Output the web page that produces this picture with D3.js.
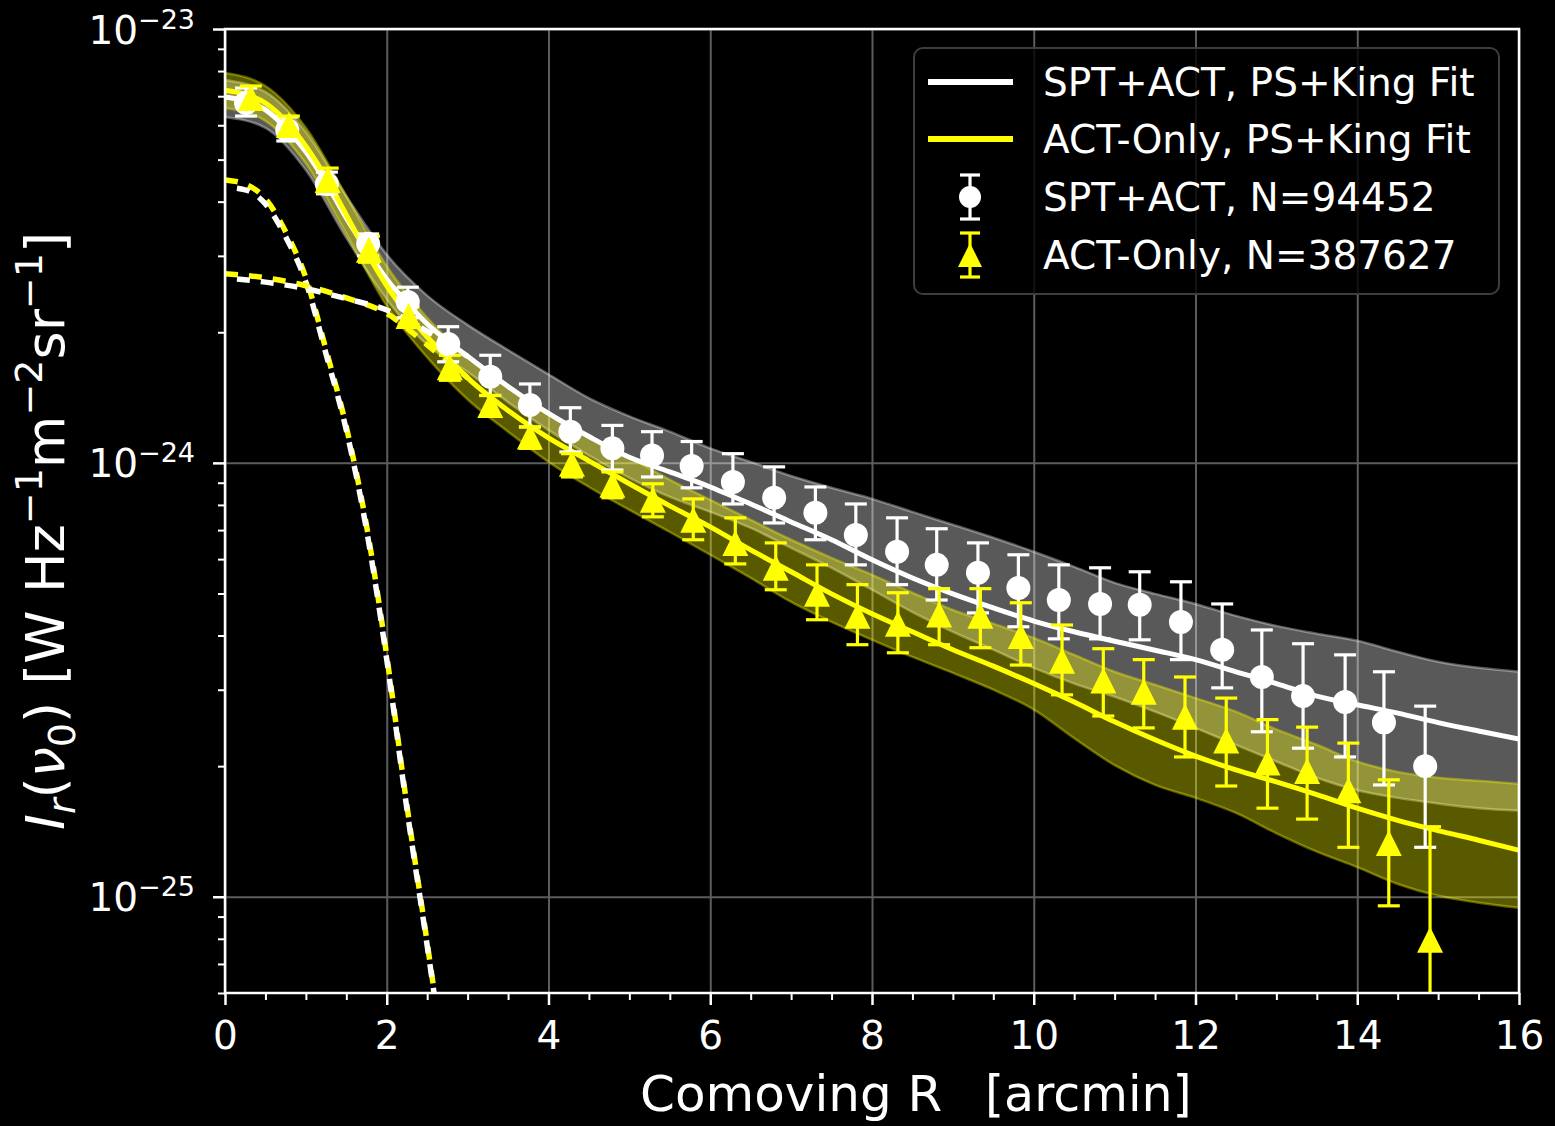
<!DOCTYPE html>
<html>
<head>
<meta charset="utf-8">
<script src="https://cdn.jsdelivr.net/npm/d3@7"></script>
<style>
  html, body { margin: 0; padding: 0; background: #000; }
  svg { display: block; font-family: "DejaVu Sans", sans-serif; }
</style>
</head>
<body>
<svg id="chart" width="1555" height="1126"></svg>
<script>
// All intensities below are in units of 1e-24 W Hz^-1 m^-2 sr^-1
const UNIT = 1e-24;

// Ticks
const xMajor = [0, 2, 4, 6, 8, 10, 12, 14, 16];
const xMinor = [0.5, 1, 1.5, 2.5, 3, 3.5, 4.5, 5, 5.5, 6.5, 7, 7.5, 8.5, 9, 9.5, 10.5, 11, 11.5, 12.5, 13, 13.5, 14.5, 15, 15.5];
const yMajor = [0.1, 1, 10];
const yMinor = [0.06, 0.07, 0.08, 0.09, 0.2, 0.3, 0.4, 0.5, 0.6, 0.7, 0.8, 0.9, 2, 3, 4, 5, 6, 7, 8, 9];

// Stacked profiles: SPT+ACT (white circles)
const sptR = [0.26, 0.77, 1.26, 1.77, 2.26, 2.76, 3.28, 3.77, 4.27, 4.79, 5.28, 5.77, 6.28, 6.79, 7.30, 7.80, 8.31, 8.80, 9.31, 9.81, 10.31, 10.82, 11.31, 11.82, 12.33, 12.82, 13.33, 13.85, 14.33, 14.84];
const sptVal = [6.75, 5.85, 4.39, 3.20, 2.35, 1.88, 1.58, 1.36, 1.18, 1.08, 1.04, 0.984, 0.904, 0.831, 0.767, 0.682, 0.624, 0.582, 0.558, 0.515, 0.483, 0.473, 0.471, 0.430, 0.371, 0.321, 0.290, 0.281, 0.252, 0.200];
const sptHi = [7.31, 6.27, 4.68, 3.37, 2.54, 2.06, 1.77, 1.52, 1.34, 1.22, 1.18, 1.12, 1.05, 0.979, 0.880, 0.804, 0.747, 0.705, 0.654, 0.614, 0.582, 0.573, 0.561, 0.532, 0.473, 0.412, 0.383, 0.361, 0.330, 0.275];
const sptLo = [6.30, 5.52, 4.17, 3.00, 2.16, 1.71, 1.43, 1.21, 1.06, 0.963, 0.928, 0.876, 0.804, 0.727, 0.665, 0.582, 0.524, 0.483, 0.451, 0.419, 0.393, 0.393, 0.391, 0.352, 0.303, 0.240, 0.220, 0.210, 0.181, 0.130];

// Stacked profiles: ACT-only (yellow triangles)
const actR = [0.32, 0.79, 1.27, 1.78, 2.27, 2.78, 3.28, 3.77, 4.29, 4.79, 5.29, 5.79, 6.31, 6.81, 7.32, 7.82, 8.32, 8.83, 9.34, 9.84, 10.35, 10.86, 11.36, 11.87, 12.38, 12.89, 13.38, 13.89, 14.39, 14.90];
const actVal = [6.93, 6.01, 4.49, 3.10, 2.18, 1.66, 1.36, 1.15, 0.995, 0.890, 0.822, 0.739, 0.654, 0.573, 0.499, 0.444, 0.426, 0.447, 0.444, 0.399, 0.350, 0.315, 0.297, 0.260, 0.229, 0.204, 0.195, 0.176, 0.133, 0.0796];
const actHi = [7.39, 6.30, 4.78, 3.33, 2.29, 1.77, 1.43, 1.21, 1.05, 0.953, 0.895, 0.826, 0.747, 0.654, 0.582, 0.524, 0.502, 0.513, 0.513, 0.476, 0.423, 0.373, 0.352, 0.321, 0.287, 0.256, 0.246, 0.226, 0.186, 0.145];
const actLo = [6.58, 5.70, 4.21, 2.90, 2.08, 1.55, 1.28, 1.08, 0.928, 0.831, 0.751, 0.665, 0.585, 0.510, 0.435, 0.381, 0.365, 0.381, 0.375, 0.342, 0.292, 0.261, 0.245, 0.210, 0.180, 0.160, 0.151, 0.130, 0.0953, 0.015];

// PS+King fits
const fitR = [0, 0.25, 0.5, 0.75, 1, 1.25, 1.5, 1.75, 2, 2.25, 2.5, 2.75, 3, 3.5, 4, 4.5, 5, 5.5, 6, 6.5, 7, 7.5, 8, 8.5, 9, 9.5, 10, 10.5, 11, 11.5, 12, 12.5, 13, 13.5, 14, 14.5, 15, 15.5, 16];
const sptFit = [6.97, 6.82, 6.51, 5.92, 5.21, 4.42, 3.67, 3.10, 2.65, 2.34, 2.09, 1.91, 1.76, 1.50, 1.30, 1.15, 1.03, 0.953, 0.880, 0.804, 0.731, 0.665, 0.598, 0.543, 0.499, 0.463, 0.432, 0.408, 0.388, 0.370, 0.352, 0.330, 0.310, 0.290, 0.277, 0.265, 0.252, 0.241, 0.231];
const actFit = [7.23, 7.08, 6.75, 6.14, 5.37, 4.54, 3.73, 3.06, 2.56, 2.21, 1.95, 1.75, 1.57, 1.32, 1.142, 1.011, 0.895, 0.796, 0.712, 0.630, 0.561, 0.499, 0.449, 0.408, 0.371, 0.340, 0.310, 0.281, 0.253, 0.230, 0.211, 0.196, 0.184, 0.172, 0.160, 0.150, 0.142, 0.135, 0.128];

// Fit uncertainty bands
const bandR = [0, 0.5, 1, 1.5, 2, 2.5, 3, 3.5, 4, 4.5, 5, 5.5, 6, 6.5, 7, 7.5, 8, 8.5, 9, 9.5, 10, 10.5, 11, 11.5, 12, 12.5, 13, 13.5, 14, 14.5, 15, 15.5, 16];
const sptBandHi = [7.63, 7.16, 5.79, 4.12, 3.02, 2.43, 2.08, 1.82, 1.60, 1.41, 1.28, 1.18, 1.08, 1.005, 0.933, 0.876, 0.826, 0.771, 0.720, 0.672, 0.624, 0.576, 0.529, 0.499, 0.473, 0.444, 0.421, 0.404, 0.389, 0.367, 0.348, 0.337, 0.330];
const sptBandLo = [6.27, 5.92, 4.73, 3.30, 2.38, 1.87, 1.62, 1.38, 1.19, 1.04, 0.924, 0.835, 0.771, 0.708, 0.637, 0.573, 0.510, 0.453, 0.408, 0.371, 0.337, 0.310, 0.289, 0.267, 0.245, 0.224, 0.205, 0.188, 0.176, 0.169, 0.164, 0.160, 0.158];
const actBandHi = [7.92, 7.39, 5.92, 4.12, 2.84, 2.16, 1.76, 1.49, 1.29, 1.15, 1.03, 0.914, 0.822, 0.739, 0.665, 0.604, 0.552, 0.502, 0.458, 0.426, 0.395, 0.361, 0.330, 0.308, 0.287, 0.267, 0.243, 0.224, 0.205, 0.194, 0.188, 0.185, 0.182];
const actBandLo = [6.58, 6.14, 4.89, 3.37, 2.30, 1.75, 1.40, 1.18, 1.005, 0.880, 0.779, 0.693, 0.614, 0.543, 0.478, 0.430, 0.391, 0.357, 0.328, 0.300, 0.270, 0.232, 0.201, 0.181, 0.169, 0.156, 0.140, 0.127, 0.117, 0.107, 0.1005, 0.0969, 0.0943];

// Fit components (dashed): point source and King profile
const psR = [0, 0.25, 0.5, 0.75, 1, 1.25, 1.5, 1.75, 2, 2.25, 2.5, 2.65];
const sptPS = [4.32, 4.26, 3.95, 3.32, 2.61, 1.78, 1.19, 0.701, 0.352, 0.159, 0.0771, 0.0494];
const actPS = [4.49, 4.39, 4.06, 3.41, 2.67, 1.82, 1.21, 0.716, 0.359, 0.162, 0.0783, 0.0499];
const kingR = [0, 0.5, 1, 1.5, 2, 2.5, 3];
const sptKing = [2.67, 2.61, 2.52, 2.39, 2.25, 2.01, 1.76];
const actKing = [2.73, 2.67, 2.56, 2.40, 2.21, 1.87, 1.57];

const WHITE = '#ffffff';
const YELLOW = '#ffff00';

// Dimensions for the chart and margins
const layout = { width: 1294, height: 964, marginLeft: 225, marginTop: 29 };

const svg = d3.select('#chart');
const stage = svg.append('g')
  .attr('transform', `translate(${layout.marginLeft},${layout.marginTop})`);

const scale = {
  x: d3.scaleLinear().domain([0, 16]).range([0, layout.width]),
  y: d3.scaleLog().domain([0.06, 10]).range([layout.height, 0]),
};

svg.append('defs').append('clipPath').attr('id', 'plot-clip')
  .append('rect').attr('width', layout.width).attr('height', layout.height);

// Grid
const grid = stage.append('g');
grid.append('g').call(d3.axisBottom(scale.x).tickValues(xMajor).tickSize(layout.height).tickSizeOuter(0).tickFormat(''));
grid.append('g').call(d3.axisLeft(scale.y).tickValues(yMajor).tickSize(-layout.width).tickSizeOuter(0).tickFormat(''));
grid.selectAll('.domain').remove();
grid.selectAll('line').attr('stroke', '#5c5c5c').attr('stroke-width', 2);

const plot = stage.append('g').attr('clip-path', 'url(#plot-clip)');

const zip = (xs, ys) => xs.map((r, i) => [r, ys[i]]);
const line = d3.line()
  .x(d => scale.x(d[0]))
  .y(d => scale.y(d[1]))
  .curve(d3.curveMonotoneX);
const area = d3.area()
  .x(d => scale.x(d.r))
  .y0(d => scale.y(d.lo))
  .y1(d => scale.y(d.hi))
  .curve(d3.curveMonotoneX);

// Uncertainty bands
function drawBand(hi, lo, color) {
  const rows = bandR.map((r, i) => ({ r: r, hi: hi[i], lo: lo[i] }));
  plot.append('path').datum(rows)
    .attr('d', area)
    .attr('fill', color).attr('fill-opacity', 0.35)
    .attr('stroke', color).attr('stroke-opacity', 0.35).attr('stroke-width', 2.5);
}
drawBand(sptBandHi, sptBandLo, WHITE);
drawBand(actBandHi, actBandLo, YELLOW);

// Best fit lines
function drawLine(rs, vs, color, width, dash, offset) {
  plot.append('path').datum(zip(rs, vs))
    .attr('d', line)
    .attr('fill', 'none')
    .attr('stroke', color)
    .attr('stroke-width', width)
    .attr('stroke-dasharray', dash || null)
    .attr('stroke-dashoffset', offset || 0);
}
drawLine(fitR, sptFit, WHITE, 5);
drawLine(fitR, actFit, YELLOW, 5);

// Components: yellow and white dashes alternate along the curves
drawLine(psR, actPS, YELLOW, 5.5, '13,11', 0);
drawLine(psR, sptPS, WHITE, 5.5, '13,11', 12);
drawLine(kingR, actKing, YELLOW, 5.5, '13,11', 0);
drawLine(kingR, sptKing, WHITE, 5.5, '13,11', 12);

// Error bars
function drawErrorBars(rs, hi, lo, color) {
  const rows = rs.map((r, i) => ({ r: r, hi: hi[i], lo: lo[i] }));
  const eb = plot.append('g').attr('stroke', color).attr('stroke-width', 3.2);
  eb.selectAll('line.bar').data(rows).join('line').attr('class', 'bar')
    .attr('x1', d => scale.x(d.r)).attr('x2', d => scale.x(d.r))
    .attr('y1', d => scale.y(d.hi)).attr('y2', d => scale.y(d.lo));
  eb.selectAll('line.cap-hi').data(rows).join('line').attr('class', 'cap-hi')
    .attr('x1', d => scale.x(d.r) - 11).attr('x2', d => scale.x(d.r) + 11)
    .attr('y1', d => scale.y(d.hi)).attr('y2', d => scale.y(d.hi));
  eb.selectAll('line.cap-lo').data(rows).join('line').attr('class', 'cap-lo')
    .attr('x1', d => scale.x(d.r) - 11).attr('x2', d => scale.x(d.r) + 11)
    .attr('y1', d => scale.y(d.lo)).attr('y2', d => scale.y(d.lo));
}
drawErrorBars(sptR, sptHi, sptLo, WHITE);
drawErrorBars(actR, actHi, actLo, YELLOW);

const triangle = 'M0,-13L13,13L-13,13Z';

plot.append('g').selectAll('circle').data(zip(sptR, sptVal)).join('circle')
  .attr('cx', d => scale.x(d[0])).attr('cy', d => scale.y(d[1]))
  .attr('r', 12).attr('fill', WHITE);

plot.append('g').selectAll('path').data(zip(actR, actVal)).join('path')
  .attr('transform', d => `translate(${scale.x(d[0])},${scale.y(d[1])})`)
  .attr('d', triangle).attr('fill', YELLOW);

// Axes
function styleAxis(sel, width) {
  sel.attr('font-size', 39).attr('font-family', '"DejaVu Sans", sans-serif').attr('color', WHITE);
  sel.select('.domain').remove();
  sel.selectAll('line').attr('stroke-width', width);
}

const xAxis = stage.append('g').attr('transform', `translate(0,${layout.height})`)
  .call(d3.axisBottom(scale.x).tickValues(xMajor).tickSize(12).tickPadding(16).tickSizeOuter(0).tickFormat(d3.format('d')));
styleAxis(xAxis, 2.5);
const xAxisMinor = stage.append('g').attr('transform', `translate(0,${layout.height})`)
  .call(d3.axisBottom(scale.x).tickValues(xMinor).tickSize(7).tickSizeOuter(0).tickFormat(''));
styleAxis(xAxisMinor, 2);

const yAxis = stage.append('g')
  .call(d3.axisLeft(scale.y).tickValues(yMajor).tickSize(12).tickPadding(18).tickSizeOuter(0));
styleAxis(yAxis, 2.5);
yAxis.selectAll('.tick text')
  .attr('dy', '0.36em')
  .each(function(d) {
    const exp = Math.round(Math.log10(d * UNIT));
    const t = d3.select(this).text(null);
    t.append('tspan').text('10');
    t.append('tspan').attr('font-size', 27).attr('dy', -15).text('\u2212' + Math.abs(exp));
  });
const yAxisMinor = stage.append('g')
  .call(d3.axisLeft(scale.y).tickValues(yMinor).tickSize(7).tickSizeOuter(0).tickFormat(''));
styleAxis(yAxisMinor, 2);

// Frame
stage.append('rect')
  .attr('width', layout.width).attr('height', layout.height)
  .attr('fill', 'none').attr('stroke', WHITE).attr('stroke-width', 2.5);

// Axis labels
const xLabel = svg.append('text').attr('y', 1111).attr('fill', WHITE).attr('font-size', 50);
xLabel.append('tspan').attr('x', 640).text('Comoving R');
xLabel.append('tspan').attr('x', 985).attr('font-size', 49).text('[arcmin]');

const yLabel = svg.append('text')
  .attr('transform', 'translate(64,531) rotate(-90)')
  .attr('text-anchor', 'middle').attr('fill', WHITE).attr('font-size', 54);
const yParts = [
  { t: 'I', style: 'italic' },
  { t: 'r', style: 'italic', size: 38, dy: 11 },
  { t: '(', dy: -11 },
  { t: '\u03bd', style: 'italic' },
  { t: '0', size: 38, dy: 11 },
  { t: ') [W Hz', dy: -11 },
  { t: '\u22121', size: 38, dy: -22 },
  { t: 'm', dy: 22 },
  { t: '\u22122', size: 38, dy: -22 },
  { t: 'sr', dy: 22 },
  { t: '\u22121', size: 38, dy: -22 },
  { t: ']', dy: 22 },
];
yParts.forEach(p => {
  const s = yLabel.append('tspan').text(p.t);
  if (p.style) s.attr('font-style', p.style);
  if (p.size) s.attr('font-size', p.size);
  if (p.dy) s.attr('dy', p.dy);
});

// Legend
const legend = svg.append('g');
legend.append('rect')
  .attr('x', 914).attr('y', 48).attr('width', 585).attr('height', 246).attr('rx', 9)
  .attr('fill', '#000').attr('fill-opacity', 0.8)
  .attr('stroke', '#3d3d3d').attr('stroke-width', 2);

const legendRows = [
  { label: 'SPT+ACT, PS+King Fit', kind: 'line', color: WHITE, y: 82 },
  { label: 'ACT-Only, PS+King Fit', kind: 'line', color: YELLOW, y: 139 },
  { label: 'SPT+ACT, N=94452', kind: 'circle', color: WHITE, y: 197 },
  { label: 'ACT-Only, N=387627', kind: 'triangle', color: YELLOW, y: 255 },
];
legendRows.forEach(row => {
  const item = legend.append('g');
  if (row.kind === 'line') {
    item.append('line').attr('x1', 928).attr('x2', 1013).attr('y1', row.y).attr('y2', row.y)
      .attr('stroke', row.color).attr('stroke-width', 6);
  } else {
    const eb = item.append('g').attr('stroke', row.color).attr('stroke-width', 3.2);
    eb.append('line').attr('x1', 970).attr('x2', 970).attr('y1', row.y - 22).attr('y2', row.y + 22);
    eb.append('line').attr('x1', 960).attr('x2', 980).attr('y1', row.y - 22).attr('y2', row.y - 22);
    eb.append('line').attr('x1', 960).attr('x2', 980).attr('y1', row.y + 22).attr('y2', row.y + 22);
    if (row.kind === 'circle') {
      item.append('circle').attr('cx', 970).attr('cy', row.y).attr('r', 11).attr('fill', row.color);
    } else {
      item.append('path').attr('transform', `translate(970,${row.y})`)
        .attr('d', 'M0,-12L12,12L-12,12Z').attr('fill', row.color);
    }
  }
  item.append('text').attr('x', 1043).attr('y', row.y + 14)
    .attr('fill', WHITE).attr('font-size', 39).text(row.label);
});
</script>
</body>
</html>
